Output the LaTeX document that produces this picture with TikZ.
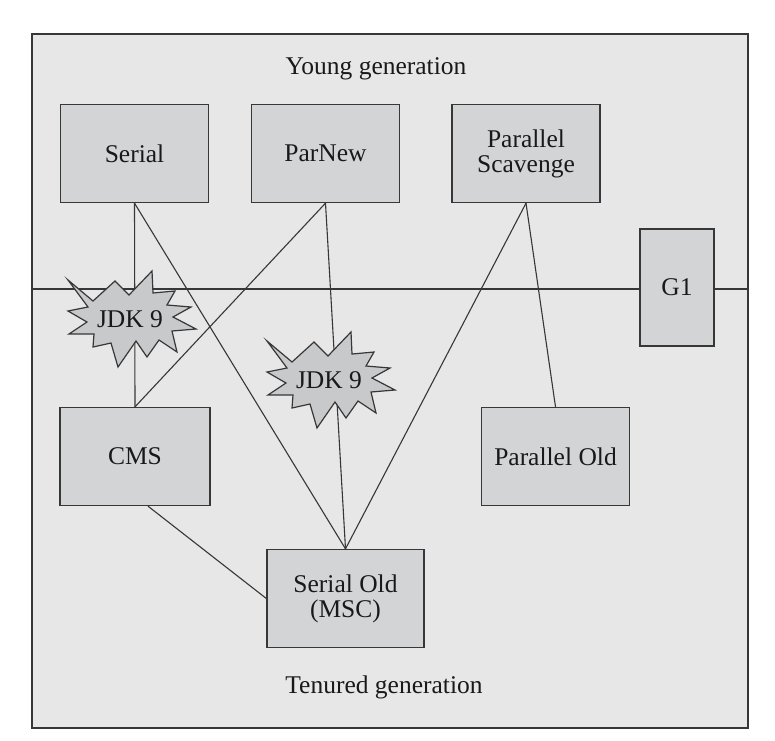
\documentclass[tikz,border=0pt]{standalone}
\usepackage{fontspec}
\setmainfont{Liberation Serif}
\definecolor{bgfill}{RGB}{231,231,231}
\definecolor{boxfill}{RGB}{211,212,213}
\definecolor{starfill}{RGB}{200,201,203}
\definecolor{linecol}{RGB}{55,55,55}
\begin{document}
\begin{tikzpicture}[x=1pt,y=-1pt,
  every node/.style={font=\fontsize{25.5}{25}\selectfont, text=black!90},
  gcbox/.style={draw=linecol, line width=1.3pt, fill=boxfill, minimum width=148pt, minimum height=98pt, align=center, inner sep=0pt},
  conn/.style={draw=linecol, line width=1.1pt},
  burst/.pic={
    \filldraw[draw=linecol, line width=1.2pt, fill=starfill, line join=miter]
      (-63,-39) -- (-38,-18) -- (-16,-38) -- (-2,-24) -- (21,-48) -- (22,-26)
      -- (44,-28) -- (36,-14) -- (60,-12) -- (42,-2) -- (65,10) -- (41,12)
      -- (46,33) -- (28,21) -- (16,38) -- (5,22) -- (-13,48) -- (-20,24)
      -- (-38,28) -- (-37,15) -- (-62,15) -- (-44,3) -- (-63,-8) -- (-43,-12) -- cycle;
    \node[inner sep=0pt] (-t) at (-1,0) {JDK 9};
  }
]
\useasboundingbox (0,0) rectangle (775,740);
\fill[white] (0,0) rectangle (775,740);
\draw[draw=linecol, line width=1.2pt, fill=bgfill] (32,34) rectangle (748,728);
\node (young) at (376,69) {Young generation};
\node (tenured) at (384,687) {Tenured generation};
\coordinate (hl) at (32,289);
\coordinate (hr) at (748,289);
\draw[conn] (hl) -- (hr);
% boxes
\node[gcbox] (serial) at (134.5,153.5) {Serial};
\node[gcbox] (parnew) at (325.5,153.5) {ParNew};
\node[gcbox] (pscav) at (526,153.5) {Parallel\\Scavenge};
\node[gcbox, minimum width=74pt, minimum height=117pt] (g1) at (677,287.5) {G1};
\node[gcbox, minimum width=150pt] (cms) at (135,456.5) {CMS};
\node[gcbox] (pold) at (555.5,456.5) {Parallel Old};
\node[gcbox, minimum width=157pt] (sold) at (345.5,598.5) {Serial Old\\(MSC)};
% connectors
\draw[conn] (serial.south) -- (cms.north);
\draw[conn] (serial.south) -- (sold.north);
\draw[conn] (parnew.south) -- (cms.north);
\draw[conn] (parnew.south) -- (sold.north);
\draw[conn] (pscav.south) -- (sold.north);
\draw[conn] (pscav.south) -- (pold.north);
\draw[conn] ([xshift=13pt]cms.south) -- (sold.west);
% stars
\pic (jdk1) at (131,319) {burst};
\pic (jdk2) at (330,380) {burst};
\end{tikzpicture}
\end{document}
